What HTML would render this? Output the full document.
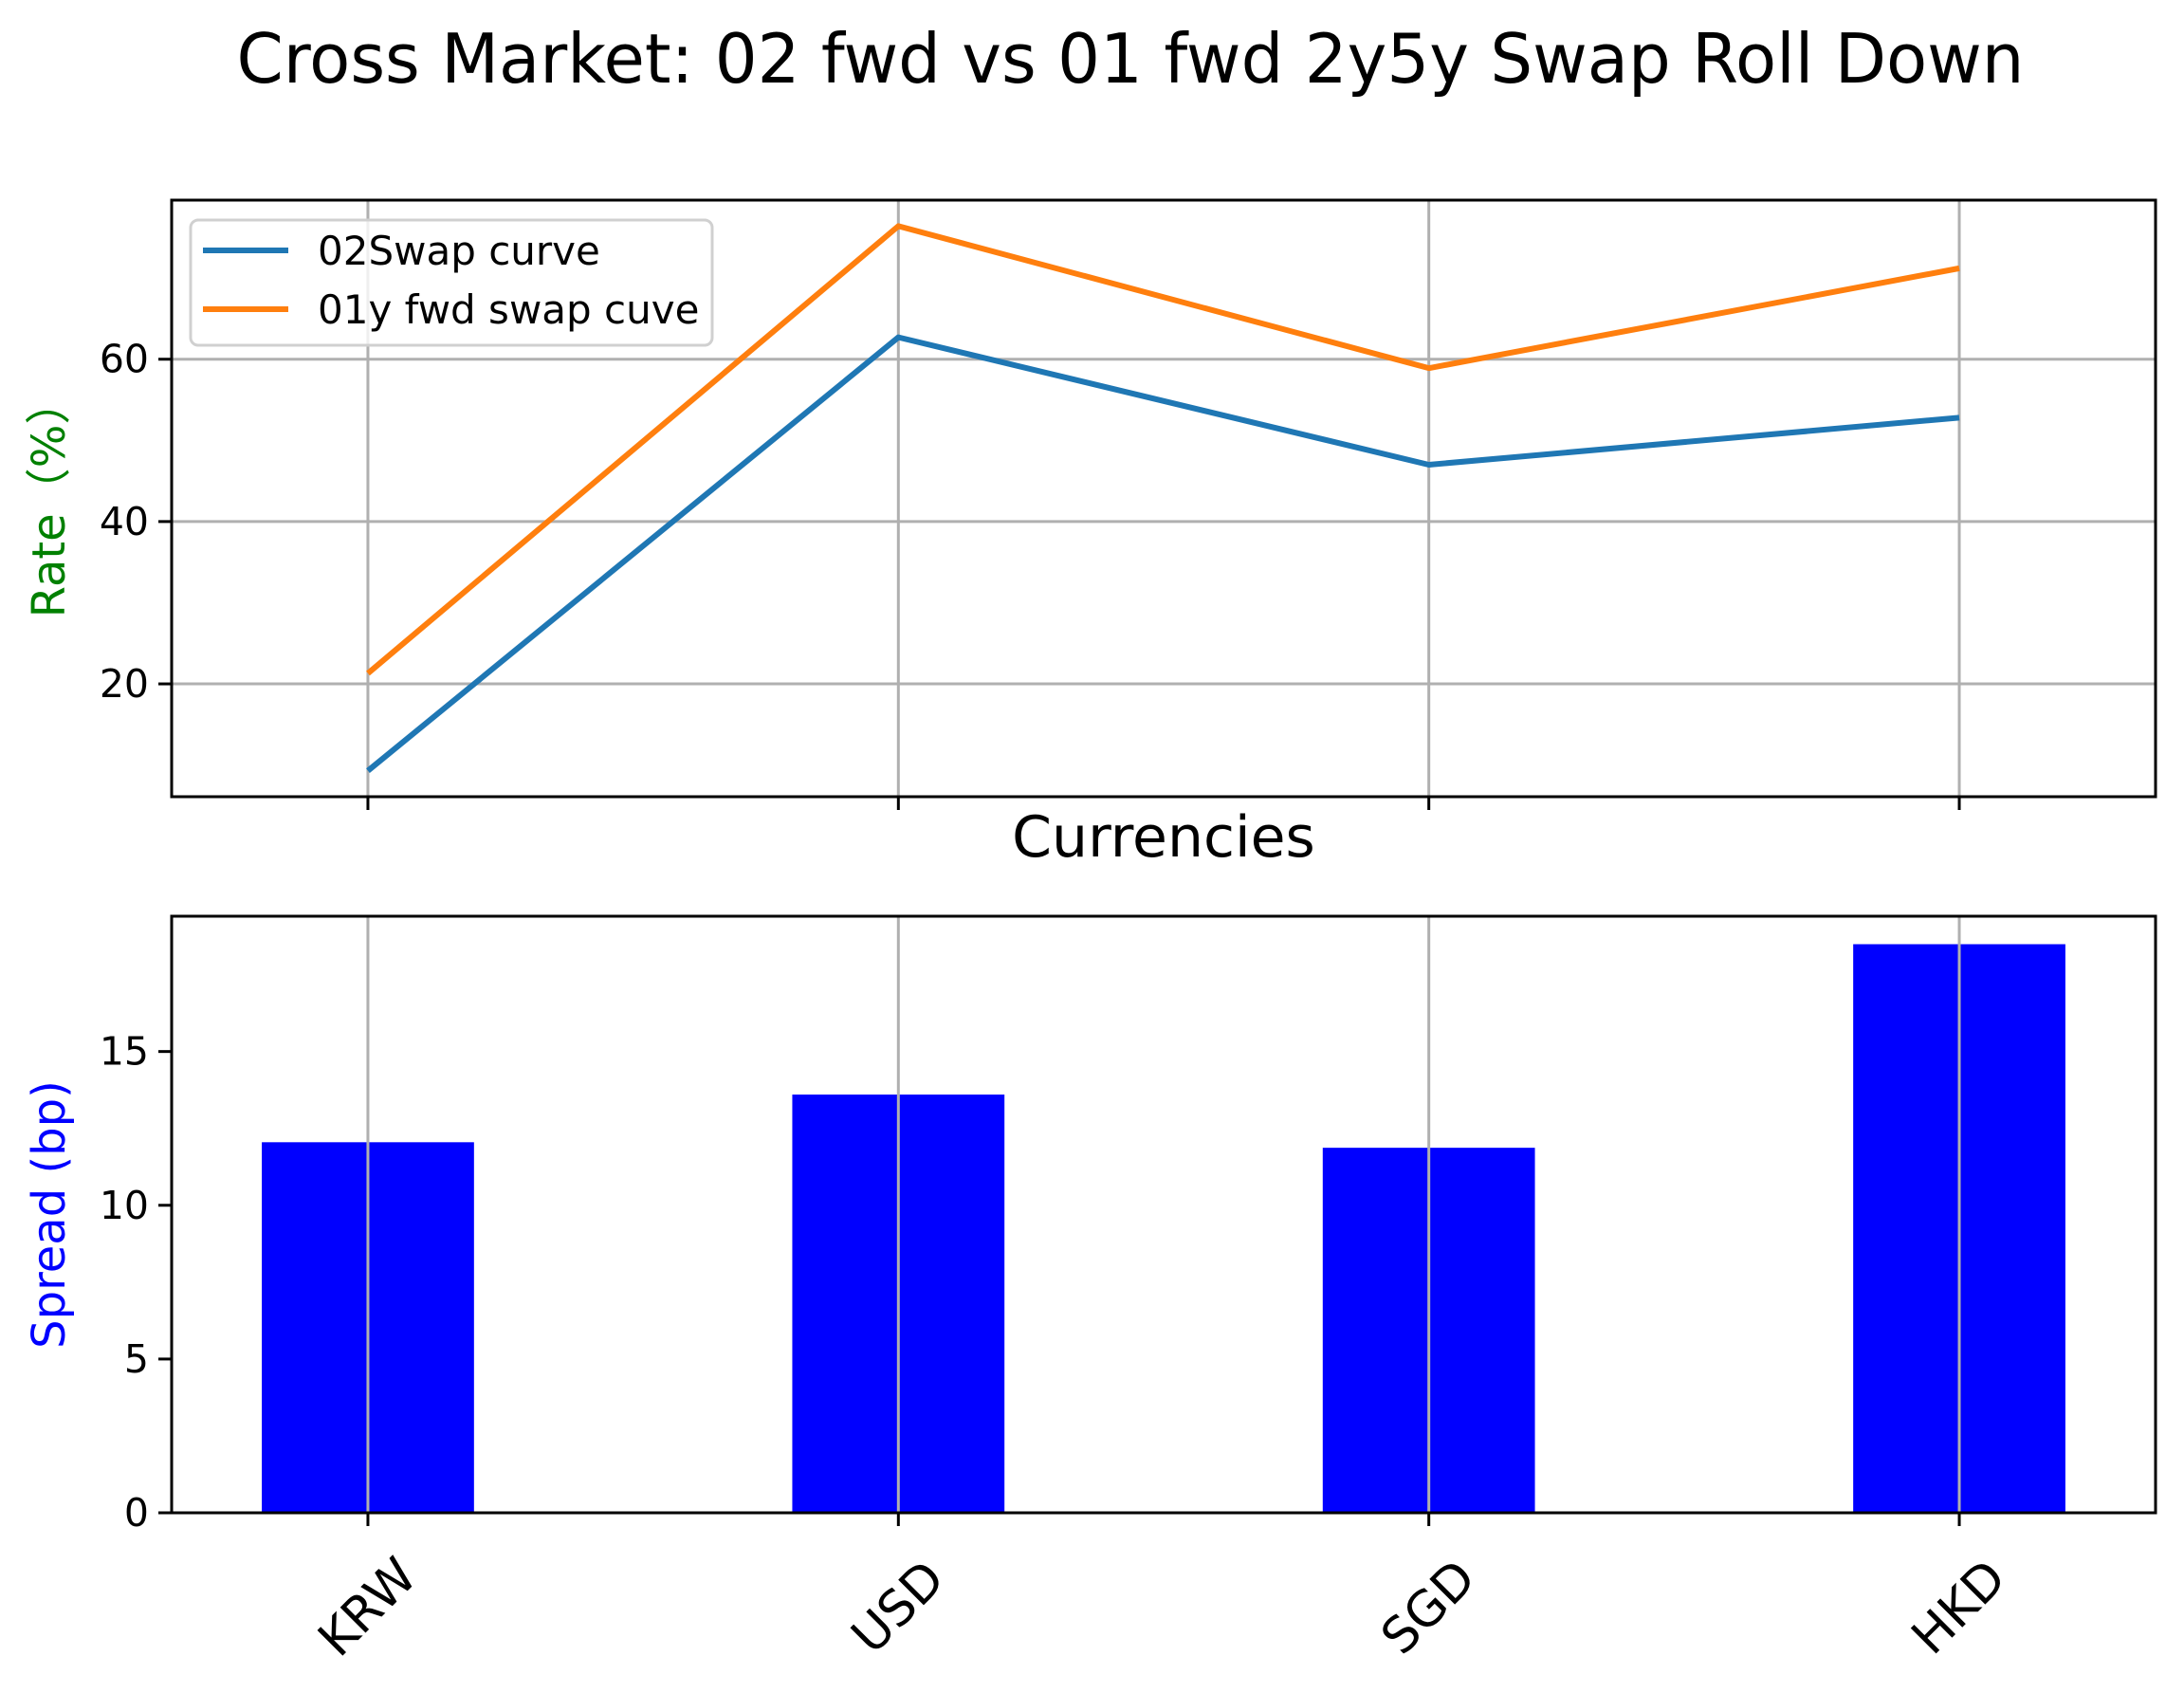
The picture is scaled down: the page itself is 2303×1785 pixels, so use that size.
<!DOCTYPE html>
<html><head><meta charset="utf-8"><style>
html,body{margin:0;padding:0;background:#fff}
svg text{font-family:"DejaVu Sans","Liberation Sans",sans-serif}
</style></head><body>
<svg id="fig" width="2303" height="1780" xmlns="http://www.w3.org/2000/svg">
<rect width="2303" height="1780" fill="#fff"/>
<text x="1192" y="87" font-size="72" text-anchor="middle" textLength="1885" lengthAdjust="spacingAndGlyphs">Cross Market: 02 fwd vs 01 fwd 2y5y Swap Roll Down</text>
<g id="topchart"></g>
<g id="botchart"></g>
</svg>
<script>
const categories = ["KRW","USD","SGD","HKD"];
const swapCurve02 = [9.3, 62.7, 47.0, 52.8];
const fwdCurve01 = [21.3, 76.4, 58.9, 71.2];
const spreadBp = [12.05, 13.6, 11.87, 18.49];
const rateTicks = [20, 40, 60];
const spreadTicks = [0, 5, 10, 15];

const NS = "http://www.w3.org/2000/svg";
function mk(parent, tag, attrs, txt){
  const e = document.createElementNS(NS, tag);
  for (const k in attrs) e.setAttribute(k, attrs[k]);
  if (txt !== undefined) e.textContent = txt;
  parent.appendChild(e);
  return e;
}
const L = 181, R = 2273;
const xmin = -0.37, xmax = 3.37;
function xs(i){ return L + (i - xmin) / (xmax - xmin) * (R - L); }
const T1 = 211, B1 = 840, y1min = 6.1, y1max = 79.6;
function ys1(v){ return B1 - (v - y1min) / (y1max - y1min) * (B1 - T1); }
const T2 = 966, B2 = 1595, y2min = 0, y2max = 19.4;
function ys2(v){ return B2 - (v - y2min) / (y2max - y2min) * (B2 - T2); }

const gTop = document.getElementById('topchart');
const gBot = document.getElementById('botchart');

categories.forEach((c,i)=>{
  const g = mk(gTop,'line',{x1:xs(i),x2:xs(i),y1:T1,y2:B1,stroke:'#b0b0b0','stroke-width':3});
  
  
  const t = mk(gTop,'line',{x1:xs(i),x2:xs(i),y1:B1,y2:B1+14,stroke:'#000','stroke-width':3});
  
  
});
rateTicks.forEach(v=>{
  const g = mk(gTop,'line',{x1:L,x2:R,y1:ys1(v),y2:ys1(v),stroke:'#b0b0b0','stroke-width':3});
  
  
  const t = mk(gTop,'line',{x1:L-14,x2:L,y1:ys1(v),y2:ys1(v),stroke:'#000','stroke-width':3});
  
  
  const l = mk(gTop,'text',{x:L-24,y:ys1(v)+14,'font-size':41,'text-anchor':'end'},String(v));
  
  
});
function pts(arr){ return arr.map((v,i)=>xs(i)+','+ys1(v)).join(' '); }
const lb = mk(gTop,'polyline',{points:pts(swapCurve02),fill:'none',stroke:'#1f77b4','stroke-width':6,'stroke-linejoin':'round'});


const lo = mk(gTop,'polyline',{points:pts(fwdCurve01),fill:'none',stroke:'#ff7f0e','stroke-width':6,'stroke-linejoin':'round'});


const f1 = mk(gTop,'rect',{x:L,y:T1,width:R-L,height:B1-T1,fill:'none',stroke:'#000','stroke-width':3});


const lg = mk(gTop,'g',{});


mk(lg,'rect',{x:201,y:232,width:550,height:132,rx:8,fill:'#fff','fill-opacity':0.8,stroke:'#d0d0d0','stroke-width':3});
const le1 = mk(lg,'g',{});


mk(le1,'line',{x1:214,x2:304,y1:264,y2:264,stroke:'#1f77b4','stroke-width':6});
mk(le1,'text',{x:335,y:279,'font-size':42},'02Swap curve');
const le2 = mk(lg,'g',{});


mk(le2,'line',{x1:214,x2:304,y1:326,y2:326,stroke:'#ff7f0e','stroke-width':6});
mk(le2,'text',{x:335,y:341,'font-size':42},'01y fwd swap cuve');
const yl1 = mk(gTop,'text',{x:0,y:0,'font-size':48,fill:'green','text-anchor':'middle','font-family':'"DejaVu Sans","Noto Sans CJK SC",sans-serif',transform:`translate(68,${(T1+B1)/2}) rotate(-90)`},'Rate（%）');


const xl = mk(gTop,'text',{x:1227,y:903,'font-size':60,'text-anchor':'middle'},'Currencies');



const bw = 0.4;
categories.forEach((c,i)=>{
  const b = mk(gBot,'rect',{x:xs(i-bw/2),y:ys2(spreadBp[i]),width:xs(i+bw/2)-xs(i-bw/2),height:ys2(0)-ys2(spreadBp[i]),fill:'#0000ff'});
  
  
});
categories.forEach((c,i)=>{
  const g = mk(gBot,'line',{x1:xs(i),x2:xs(i),y1:T2,y2:B2,stroke:'#b0b0b0','stroke-width':3});
  
  
  const t = mk(gBot,'line',{x1:xs(i),x2:xs(i),y1:B2,y2:B2+14,stroke:'#000','stroke-width':3});
  
  
  const l = mk(gBot,'text',{x:0,y:0,'font-size':52,'text-anchor':'middle','dominant-baseline':'central',transform:`translate(${xs(i)},1695) rotate(-45)`},c);
  
  
});
spreadTicks.forEach(v=>{
  const t = mk(gBot,'line',{x1:L-14,x2:L,y1:ys2(v),y2:ys2(v),stroke:'#000','stroke-width':3});
  
  
  const l = mk(gBot,'text',{x:L-24,y:ys2(v)+14,'font-size':41,'text-anchor':'end'},String(v));
  
  
});
const f2 = mk(gBot,'rect',{x:L,y:T2,width:R-L,height:B2-T2,fill:'none',stroke:'#000','stroke-width':3});


const yl2 = mk(gBot,'text',{x:0,y:0,'font-size':48,fill:'blue','text-anchor':'middle',transform:`translate(68,${(T2+B2)/2}) rotate(-90)`},'Spread (bp)');


</script>
</body></html>
